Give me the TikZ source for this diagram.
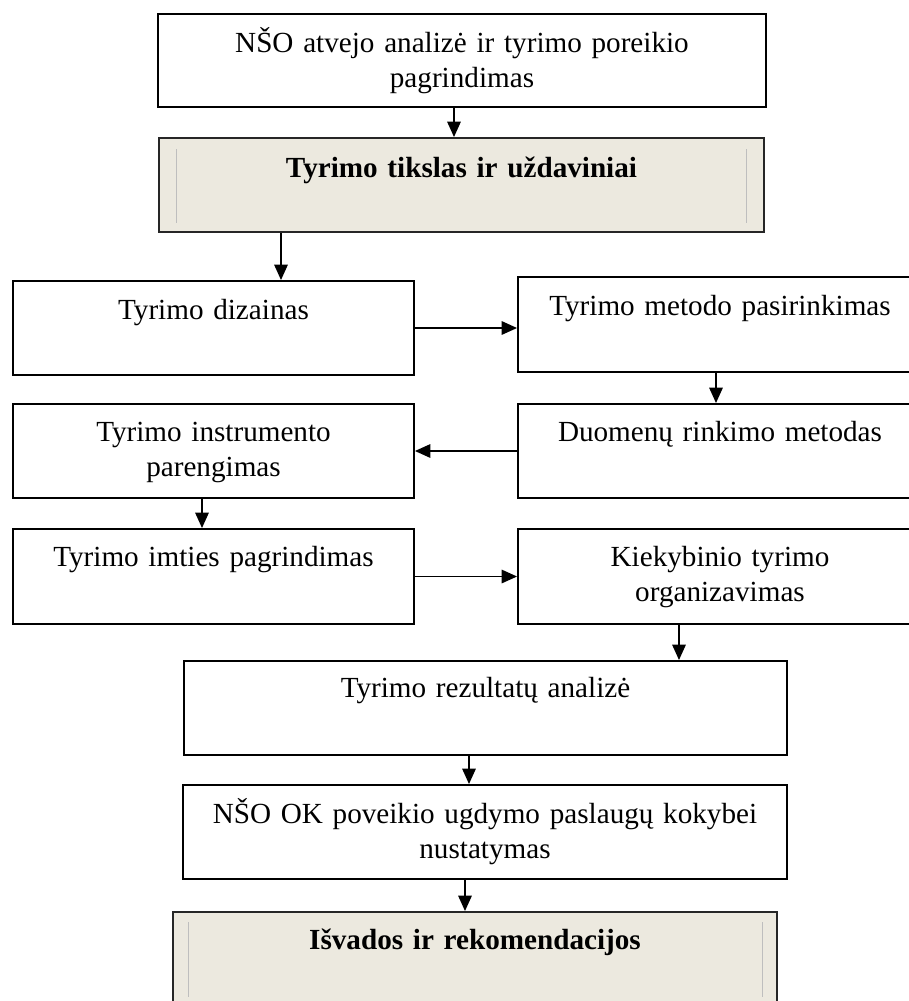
\documentclass[tikz,border=0pt]{standalone}
\usepackage{fontspec}
\setmainfont{Liberation Serif}
\usetikzlibrary{arrows.meta}
\definecolor{shadefill}{RGB}{236,233,223}
\definecolor{innergray}{RGB}{190,190,190}
\begin{document}
\begin{tikzpicture}[x=0.02cm,y=-0.02cm,
  box/.style={draw=black, line width=1.1pt, rectangle, inner sep=0pt},
  shadebox/.style={box, fill=shadefill, draw=black!85},
  txt/.style={anchor=base, align=center, inner sep=0pt, font=\fontsize{16.6}{19.9}\selectfont},
  arr/.style={line width=1pt, -{Triangle[length=0.31cm,width=0.27cm]}},
  innerline/.style={draw=innergray, line width=0.6pt}]
\useasboundingbox (0,0) rectangle (909,1001);
\clip (0,0) rectangle (909,1001);

% boxes
\node[box, minimum width=12.16cm, minimum height=1.86cm] (b1) at (462,60.5) {};
\node[shadebox, minimum width=12.1cm, minimum height=1.88cm] (s1) at (461.5,185) {};
\node[box, minimum width=8.02cm, minimum height=1.88cm] (diz) at (213.5,328) {};
\node[box, minimum width=8.08cm, minimum height=1.9cm] (met) at (720,324.5) {};
\node[box, minimum width=8.08cm, minimum height=1.88cm] (duo) at (720,451) {};
\node[box, minimum width=8.02cm, minimum height=1.88cm] (ins) at (213.5,451) {};
\node[box, minimum width=8.02cm, minimum height=1.9cm] (imt) at (213.5,576.5) {};
\node[box, minimum width=8.08cm, minimum height=1.9cm] (kie) at (720,576.5) {};
\node[box, minimum width=12.06cm, minimum height=1.88cm] (rez) at (485.5,708) {};
\node[box, minimum width=12.08cm, minimum height=1.88cm] (nok) at (485,832) {};
\node[shadebox, minimum width=12.08cm, minimum height=1.88cm] (s2) at (475,959) {};

% inner lines of shaded boxes
\draw[innerline] ([xshift=0.36cm,yshift=-0.24cm]s1.north west) -- ([xshift=0.36cm,yshift=0.2cm]s1.south west);
\draw[innerline] ([xshift=-0.36cm,yshift=-0.24cm]s1.north east) -- ([xshift=-0.36cm,yshift=0.2cm]s1.south east);
\draw[innerline] ([xshift=0.32cm,yshift=-0.22cm]s2.north west) -- ([xshift=0.32cm,yshift=0.2cm]s2.south west);
\draw[innerline] ([xshift=-0.3cm,yshift=-0.22cm]s2.north east) -- ([xshift=-0.3cm,yshift=0.2cm]s2.south east);

% texts
\node[txt, text width=11.6cm] (t1) at ([yshift=-0.78cm]b1.north) {NŠO atvejo analizė ir tyrimo poreikio\\pagrindimas};
\node[txt, text width=11.6cm, font=\fontsize{16.6}{19.9}\selectfont\bfseries] (ts1) at ([yshift=-0.8cm]s1.north) {Tyrimo tikslas ir uždaviniai};
\node[txt, text width=7.6cm] (tdiz) at ([yshift=-0.78cm]diz.north) {Tyrimo dizainas};
\node[txt, text width=7.6cm] (tmet) at ([yshift=-0.78cm]met.north) {Tyrimo metodo pasirinkimas};
\node[txt, text width=7.6cm] (tduo) at ([yshift=-0.76cm]duo.north) {Duomenų rinkimo metodas};
\node[txt, text width=7.6cm] (tins) at ([yshift=-0.76cm]ins.north) {Tyrimo instrumento\\parengimas};
\node[txt, text width=7.6cm] (timt) at ([yshift=-0.76cm]imt.north) {Tyrimo imties pagrindimas};
\node[txt, text width=7.6cm] (tkie) at ([yshift=-0.76cm]kie.north) {Kiekybinio tyrimo\\organizavimas};
\node[txt, text width=11.6cm] (trez) at ([yshift=-0.74cm]rez.north) {Tyrimo rezultatų analizė};
\node[txt, text width=11.6cm] (tnok) at ([yshift=-0.78cm]nok.north) {NŠO OK poveikio ugdymo paslaugų kokybei\\nustatymas};
\node[txt, text width=11.6cm, font=\fontsize{16.6}{19.9}\selectfont\bfseries] (ts2) at ([yshift=-0.76cm]s2.north) {Išvados ir rekomendacijos};

% arrow x positions
\coordinate (a1) at (454,0);
\coordinate (a2) at (281,0);
\coordinate (a4) at (716,0);
\coordinate (a6) at (202,0);
\coordinate (a8) at (679,0);
\coordinate (a9) at (469,0);
\coordinate (a10) at (465,0);

% connectors
\draw[arr] (b1.south -| a1) -- (s1.north -| a1);
\draw[arr] (s1.south -| a2) -- (diz.north -| a2);
\draw[arr] (diz.east) -- (diz.east -| met.west);
\draw[arr] (met.south -| a4) -- (duo.north -| a4);
\draw[arr] (duo.west) -- (ins.east);
\draw[arr] (ins.south -| a6) -- (imt.north -| a6);
\draw[arr] (imt.east) -- (kie.west);
\draw[arr] (kie.south -| a8) -- (rez.north -| a8);
\draw[arr] (rez.south -| a9) -- (nok.north -| a9);
\draw[arr] (nok.south -| a10) -- (s2.north -| a10);
\end{tikzpicture}
\end{document}
